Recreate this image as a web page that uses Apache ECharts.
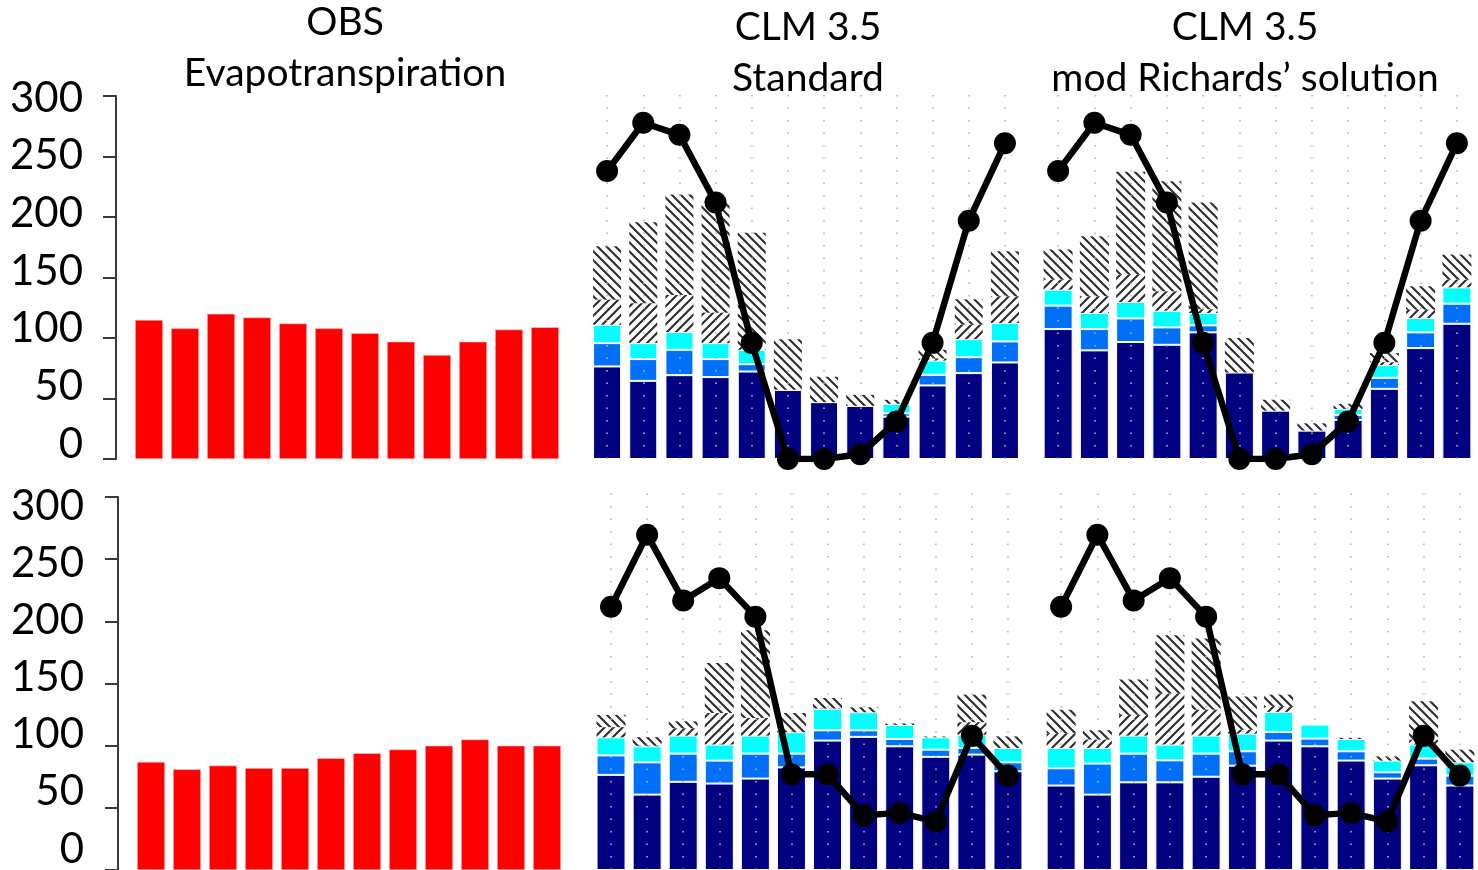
<!DOCTYPE html>
<html>
<head>
<meta charset="utf-8">
<script src="https://cdn.jsdelivr.net/npm/echarts@6/dist/echarts.min.js"></script>
<style>
  html, body { margin: 0; padding: 0; background: #fff; }
  #chart { width: 1478px; height: 870px; }
</style>
</head>
<body>
<div id="chart"></div>
<script>
// ---- Monthly values (mm) ----
const months = ['Jan', 'Feb', 'Mar', 'Apr', 'May', 'Jun', 'Jul', 'Aug', 'Sep', 'Oct', 'Nov', 'Dec'];
const yTicks = [0, 50, 100, 150, 200, 250, 300];

// Observed evapotranspiration, upper and lower site
const obsUpper = [115, 108, 120, 117, 112, 108, 104, 97, 86, 97, 107, 109];
const obsLower = [87, 81, 84, 82, 82, 90, 94, 97, 100, 105, 100, 100];

// Precipitation forcing (same for both model runs)
const precipUpper = [238, 278, 268, 212, 96, 0, 0, 4, 31, 96, 197, 261];
const precipLower = [212, 270, 217, 235, 204, 77, 77, 44, 46, 39, 108, 76];

// CLM 3.5 standard, upper site
const stdUpperTransp = [76.5, 64.6, 69.3, 67.7, 72.3, 57.2, 47, 43.9, 35, 60.8, 71, 79.8];
const stdUpperGround = [19.3, 18, 21, 14.9, 6.1, 0, 0, 0, 2.8, 8.8, 13.2, 17.4];
const stdUpperCanopy = [15.2, 13.2, 14.7, 13.2, 11.9, 0, 0, 0, 7.8, 11.8, 14.9, 15.2];
const stdUpperRunoff = [20.7, 33, 30.5, 25.2, 2.7, 0, 0, 0, 0, 1.6, 11.9, 22.1];
const stdUpperDrain = [44.2, 67, 83.2, 92, 94, 41.8, 21, 9.1, 3.3, 7.3, 21, 37.3];

// CLM 3.5 modified Richards' solution, upper site
const modUpperTransp = [107.4, 89.8, 96.7, 94.4, 104.7, 71.5, 40, 23.5, 32.3, 58, 91.7, 111.8];
const modUpperGround = [19.4, 17.6, 19.5, 14.4, 5.8, 0, 0, 0, 4.2, 9.1, 13, 16.6];
const modUpperCanopy = [13.2, 13.3, 13.6, 13.8, 10.2, 0, 0, 0, 4.9, 10.5, 11.9, 13.5];
const modUpperRunoff = [8.3, 13.8, 22.9, 16, 3, 0, 0, 0, 0, 2.4, 6.8, 6.4];
const modUpperDrain = [24.9, 49.7, 84.8, 91.1, 88.3, 28.5, 9, 6, 4.2, 7.6, 19.4, 20.7];

// CLM 3.5 standard, lower site
const stdLowerTransp = [76.6, 60.7, 71, 69.6, 73.6, 82.6, 104.2, 107.2, 99.6, 91.1, 92.9, 79.5];
const stdLowerGround = [15.7, 26, 22.7, 18.5, 20.1, 11.1, 8.3, 5.3, 5.9, 5.8, 5.4, 7.2];
const stdLowerCanopy = [14.5, 12.9, 14.5, 12.9, 14.5, 17.2, 17.2, 14.5, 11.3, 9.9, 10.7, 11.6];
const stdLowerRunoff = [8.2, 0.4, 5.8, 25.5, 14.2, 0, 0.3, 0, 0, 0, 10, 0];
const stdLowerDrain = [9.9, 7, 5.7, 40.2, 70.6, 15.5, 8.5, 4, 1.2, 0.7, 22.2, 9.3];

// CLM 3.5 modified Richards' solution, lower site
const modLowerTransp = [68, 60.7, 70.6, 70.6, 75.1, 84, 104.2, 99.6, 88.1, 73.6, 84.3, 68];
const modLowerGround = [13.9, 25, 23.1, 17.7, 18.6, 11.6, 6.9, 6.2, 7.5, 5.1, 5.4, 8];
const modLowerCanopy = [16.4, 12.6, 14.5, 12.7, 14.5, 14.2, 16.2, 11.3, 9.9, 9.4, 11.3, 10.7];
const modLowerRunoff = [11.7, 6.7, 16.8, 41.2, 20.8, 3.2, 4.7, 0, 0, 0, 4, 0];
const modLowerDrain = [19, 7.5, 28.3, 46.9, 57.4, 26.8, 9.2, 0, 1, 3.4, 30.8, 10.2];

// ---- Styling ----
const FONT = 'Lato, "Open Sans", sans-serif';
const NAVY = '#000080', BLUE = '#0070f8', CYAN = '#00ffff', RED = '#ff0000';
const AXIS_GREY = '#3a3a3a';

// Diagonal hatch tiles: 'back' draws "\" strokes, 'fwd' draws "/" strokes
function hatchTile(dir) {
  const n = 9;
  const c = document.createElement('canvas');
  c.width = n; c.height = n;
  const g = c.getContext('2d');
  g.strokeStyle = '#2e2e2e';
  g.lineWidth = 2.1;
  g.beginPath();
  for (const o of [-n, 0, n]) {
    if (dir === 'back') { g.moveTo(o - 1, -1); g.lineTo(o + n + 1, n + 1); }
    else { g.moveTo(o - 1, n + 1); g.lineTo(o + n + 1, -1); }
  }
  g.stroke();
  return { image: c, repeat: 'repeat' };
}
const hatchBack = hatchTile('back');
const hatchFwd = hatchTile('fwd');

const grids = [];
const xAxes = [];
const yAxes = [];
const series = [];

function addGrid(g) { grids.push(g); return grids.length - 1; }

// Observed panel: red bars with a visible left axis (ticks only) and a label axis beside it
function obsPanel(barGrid, labelGrid, values) {
  const gi = addGrid(barGrid);
  xAxes.push({ gridIndex: gi, type: 'category', data: months, show: false });
  yAxes.push({
    gridIndex: gi, type: 'value', min: yTicks[0], max: yTicks[yTicks.length - 1], interval: 50,
    offset: 15,
    axisLine: { show: true, lineStyle: { color: AXIS_GREY, width: 2 } },
    axisTick: { show: true, length: 13, lineStyle: { color: AXIS_GREY, width: 2 } },
    axisLabel: { show: false },
    splitLine: { show: false }
  });
  series.push({
    type: 'bar', name: 'Observed ET', xAxisIndex: gi, yAxisIndex: gi,
    data: values, barWidth: 28,
    itemStyle: { color: RED, borderColor: '#ffd0d0', borderWidth: 0.6 }
  });
  const li = addGrid(labelGrid);
  xAxes.push({ gridIndex: li, type: 'value', show: false });
  yAxes.push({
    gridIndex: li, type: 'value', min: yTicks[0], max: yTicks[yTicks.length - 1], interval: 50,
    axisLine: { show: false }, axisTick: { show: false }, splitLine: { show: false },
    axisLabel: { show: true, margin: 33, color: '#000', fontFamily: FONT, fontSize: 42 }
  });
}

// Model panel: stacked flux bars, precipitation line, dotted month guides
function modelPanel(grid, layers, precip, barW) {
  const gi = addGrid(grid);
  const stack = 'stack' + gi;
  xAxes.push({ gridIndex: gi, type: 'category', data: months, show: false });
  yAxes.push({ gridIndex: gi, type: 'value', min: 0, max: 310, show: false, splitLine: { show: false } });
  const defs = [
    { name: 'Transpiration', data: layers[0], color: NAVY, border: true },
    { name: 'Ground evaporation', data: layers[1], color: BLUE, border: true },
    { name: 'Canopy evaporation', data: layers[2], color: CYAN, border: true },
    { name: 'Surface runoff', data: layers[3], color: hatchFwd, border: false },
    { name: 'Drainage', data: layers[4], color: hatchBack, border: false }
  ];
  defs.forEach((d, k) => {
    const s = {
      type: 'bar', name: d.name, stack: stack, xAxisIndex: gi, yAxisIndex: gi,
      data: d.data, barWidth: barW,
      itemStyle: d.border
        ? { color: d.color, borderColor: '#ffffff', borderWidth: 1 }
        : { color: d.color, borderWidth: 0 }
    };
    if (k === defs.length - 1) {
      s.markLine = {
        silent: true, symbol: ['none', 'none'], label: { show: false },
        lineStyle: { color: '#b4b4b4', width: 1.6, type: [1.6, 10.9] },
        emphasis: { disabled: true },
        data: months.map(m => ({ xAxis: m }))
      };
    }
    series.push(s);
  });
  series.push({
    type: 'line', name: 'Precipitation', xAxisIndex: gi, yAxisIndex: gi, z: 10,
    data: precip, symbol: 'circle', symbolSize: 22,
    lineStyle: { color: '#000', width: 6.5 },
    itemStyle: { color: '#000' }
  });
}

// Upper row (0 at y=459, 300 at y=96)
obsPanel({ left: 131, top: 96, width: 432, height: 363 },
         { left: 116, top: 98, width: 10, height: 346 }, obsUpper);
modelPanel({ left: 589, top: 84, width: 434, height: 375 },
  [stdUpperTransp, stdUpperGround, stdUpperCanopy, stdUpperRunoff, stdUpperDrain], precipUpper, 28);
modelPanel({ left: 1040, top: 84, width: 435, height: 375 },
  [modUpperTransp, modUpperGround, modUpperCanopy, modUpperRunoff, modUpperDrain], precipUpper, 29);

// Lower row (0 at y=870, 300 at y=497)
obsPanel({ left: 133, top: 497, width: 432, height: 373 },
         { left: 117, top: 506, width: 10, height: 347 }, obsLower);
modelPanel({ left: 593, top: 485, width: 433, height: 385 },
  [stdLowerTransp, stdLowerGround, stdLowerCanopy, stdLowerRunoff, stdLowerDrain], precipLower, 29);
modelPanel({ left: 1043, top: 485, width: 435, height: 385 },
  [modLowerTransp, modLowerGround, modLowerCanopy, modLowerRunoff, modLowerDrain], precipLower, 29);

const titleStyle = { fontFamily: FONT, fontSize: 39, fontWeight: 'normal', color: '#000', lineHeight: 51 };
const titles = [
  { text: 'OBS\nEvapotranspiration', left: 345, top: -3 },
  { text: 'CLM 3.5\nStandard', left: 808, top: 2 },
  { text: 'CLM 3.5\nmod Richards\u2019 solution', left: 1245, top: 2 }
].map(t => Object.assign({ textAlign: 'center', padding: 0, textStyle: titleStyle }, t));

const chart = echarts.init(document.getElementById('chart'), null, { renderer: 'canvas' });
chart.setOption({
  animation: false,
  backgroundColor: '#ffffff',
  title: titles,
  grid: grids,
  xAxis: xAxes,
  yAxis: yAxes,
  series: series
});
</script>
</body>
</html>
